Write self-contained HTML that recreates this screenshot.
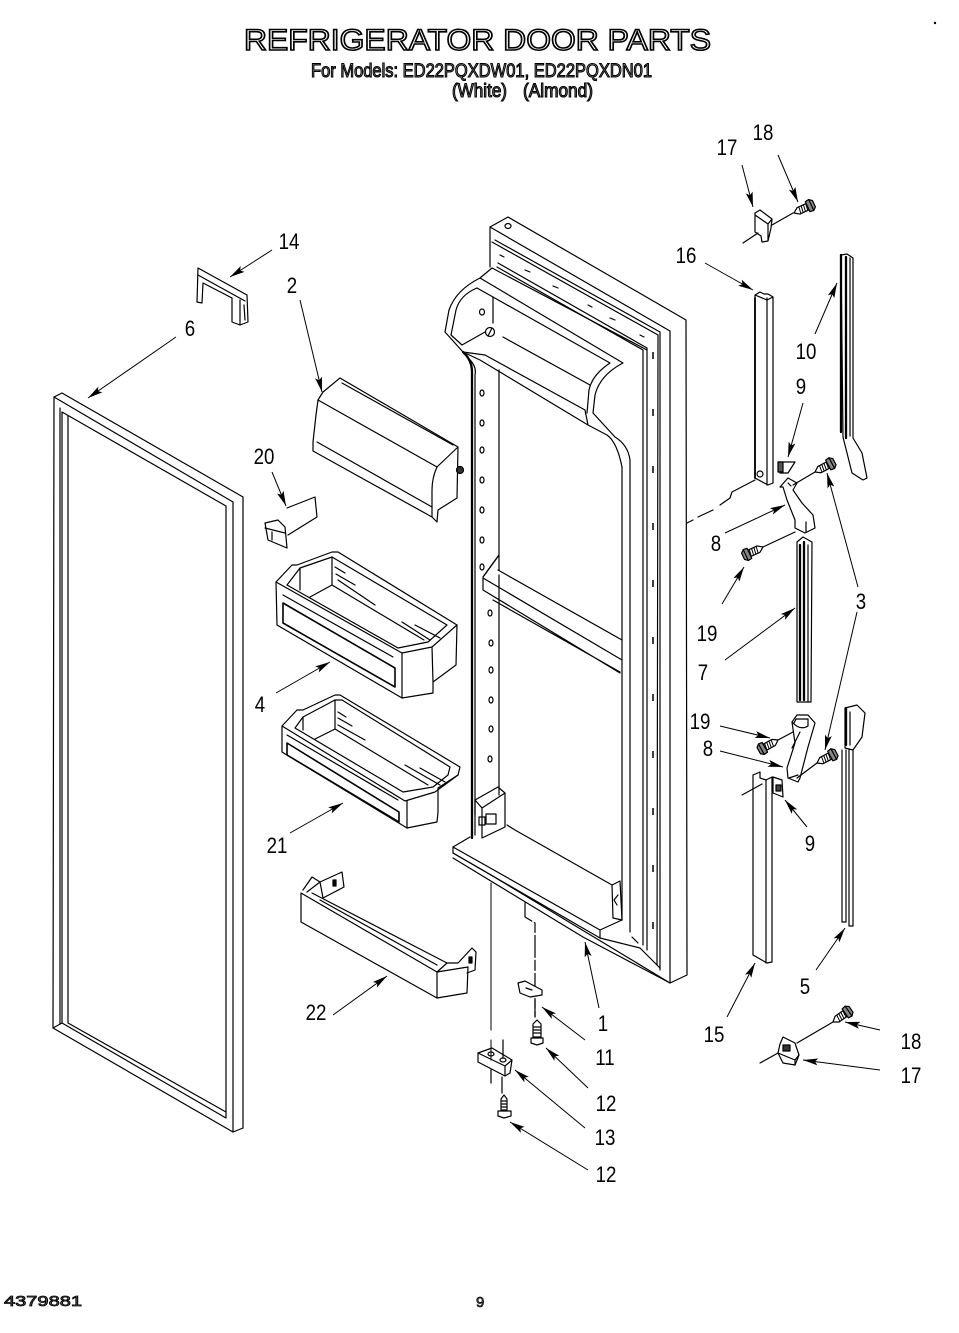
<!DOCTYPE html>
<html><head><meta charset="utf-8"><style>
html,body{margin:0;padding:0;background:#fff}
svg{display:block}
.l{fill:none;stroke:#000;stroke-width:1.2;stroke-linejoin:round;stroke-linecap:round}
.t{stroke-width:2.3}
.f{fill:#fff;stroke:#000;stroke-width:1.2;stroke-linejoin:round}
.k{fill:#222;stroke:#000;stroke-width:1}
.a{fill:none;stroke:#000;stroke-width:1;marker-end:url(#m)}
.n{font:22px "Liberation Sans",sans-serif;fill:#000;text-anchor:middle}
.o{font-family:"Liberation Sans",sans-serif}
</style></head><body>
<svg width="959" height="1333" viewBox="0 0 959 1333" xmlns="http://www.w3.org/2000/svg">
<defs>
<marker id="m" markerUnits="userSpaceOnUse" markerWidth="18" markerHeight="10" refX="16" refY="5" orient="auto"><path d="M16,5 L1,1.5 L4,5 L1,8.5 Z" fill="#000"/></marker>
<g id="sc" fill="#fff" stroke="#000" stroke-width="1.2" stroke-linejoin="round">
<path d="M0,0 L5,-3.5 L15,-3.5 L15,3.5 L5,3.5 Z"/>
<path d="M7,-3.5 L6,3.5 M9.5,-3.5 L8.5,3.5 M12,-3.5 L11,3.5 M14.5,-3.5 L13.5,3.5" stroke-width="1"/>
<path d="M15,-5.5 L19,-6 L22,-3.5 L22,3.5 L19,6 L15,5.5 Z" fill="#888"/>
<path d="M19,-6 L19,6"/>
</g>
</defs>
<rect width="959" height="1333" fill="#fff"/>

<!-- headings -->
<text class="o" x="244" y="50" font-size="30" textLength="467" lengthAdjust="spacingAndGlyphs" fill="#fff" stroke="#000" stroke-width="1.6">REFRIGERATOR DOOR PARTS</text>
<text class="o" x="311" y="77" font-size="19" textLength="341" lengthAdjust="spacingAndGlyphs" fill="#888" stroke="#000" stroke-width="1.1">For Models: ED22PQXDW01, ED22PQXDN01</text>
<text class="o" x="452" y="97" font-size="19" textLength="55" lengthAdjust="spacingAndGlyphs" fill="#888" stroke="#000" stroke-width="1.1">(White)</text>
<text class="o" x="523" y="97" font-size="19" textLength="70" lengthAdjust="spacingAndGlyphs" fill="#777" stroke="#000" stroke-width="1.1">(Almond)</text>
<text class="o" x="4" y="1306" font-size="15" textLength="78" lengthAdjust="spacingAndGlyphs" fill="#666" stroke="#000" stroke-width=".8">4379881</text>
<text class="o" x="476" y="1307" font-size="15" fill="#555" stroke="#000" stroke-width=".7">9</text>
<circle cx="935" cy="23" r="1.2" fill="#000"/>

<!-- door panel 6 -->
<g class="l">
<path d="M54,397 L62,393 L243,497 L243,1128 L233,1132 L53,1028 Z"/>
<path d="M54,397 L233,502 L233,1132"/>
<path d="M62,412 L226,506 L226,1118 L62,1023 Z"/>
<path d="M68,416 L68,1023 L226,1112"/>
<path d="M53,1028 L62,1023"/>
<path d="M60,408 L60,1024"/>
</g>

<!-- clip 14 -->
<path class="l" d="M197,302 L198,268 L247,295 L248,322 L240,325 L232,322 L232,298 L203,283 L202,303 Z M198,275 L245,301 M240,300 L240,325 M244,305 L245,320"/>

<!-- shelf 2 -->
<g class="l">
<path d="M313,442 L316,415 L318,400 L323,392 L340,378 L458,447 L457,498 L438,510 L437,522 L432,517 L313,451 Z"/>
<path d="M318,400 L437,467 L458,447"/>
<path d="M437,467 Q432,478 432,490 L432,517"/>
<path d="M317,442 L432,507"/>
<path d="M342,383 L453,445"/>
<circle cx="460" cy="470" r="3.5" fill="#333"/>
</g>

<!-- clip 20 -->
<g class="l">
<path d="M287,508 L315,497 L317,517 L288,535"/>
<path class="f" d="M265,523 L278,520 L285,527 L287,548 L268,540 Z"/>
<path d="M265,528 L285,533 M272,540 L272,532"/>
</g>

<!-- bin 4 -->
<g class="l">
<path d="M276,582 L292,565 L297,565 L332,552 L338,552 L457,625 L456,665 L433,682 L433,693 L402,698 L277,625 Z"/>
<path d="M276,582 L402,653 L432,647 L457,625"/>
<path d="M402,653 L402,698"/>
<path d="M432,647 L433,682"/>
<path d="M287,585 L300,568 L332,557 L447,625 L428,642 L398,648 Z"/>
<path d="M300,568 L300,590 M332,557 L332,585 L310,597 M332,585 L424,640"/>
<path d="M283,603 L395,668 L395,687 L283,623 Z" stroke-width="1.6"/>
<path d="M283,595 L393,657"/>
<path d="M335,567 L345,573 M336,574 L355,585 M338,580 L375,605 M402,622 L430,640 M415,625 L440,638"/>
</g>

<!-- bin 21 -->
<g class="l">
<path d="M282,726 L297,710 L303,710 L335,695 L340,695 L460,767 L458,775 L438,788 L438,812 L437,822 L407,828 L282,752 Z"/>
<path d="M282,726 L405,801 L435,792 L458,775"/>
<path d="M407,801 L407,828"/>
<path d="M295,728 L303,717 L335,700 L342,700 L450,767 L448,775 L433,787 L403,792 Z"/>
<path d="M303,717 L303,730 M335,700 L335,729 L315,739 M335,729 L428,785"/>
<path d="M287,743 L399,812 L399,822 L287,755 Z" stroke-width="1.6"/>
<path d="M287,735 L398,800"/>
<path d="M338,712 L346,717 M338,718 L352,726 M338,725 L365,740 M405,765 L440,785 M420,768 L445,782"/>
</g>

<!-- bar 22 -->
<g class="l">
<path d="M301,893 L301,922 L437,998 L467,993 L468,967 L437,972 Z"/>
<path d="M437,972 L437,998"/>
<path d="M303,890 L312,877 L320,882 L342,872 L344,887 L323,898 L320,882 M307,892 L320,882"/>
<path d="M312,893 L447,963 L437,972 M320,900 L437,965"/>
<path d="M447,963 L458,963 L472,948 L476,952 L475,970 L467,973"/>
<rect x="333" y="880" width="3" height="6" fill="#000"/>
<rect x="469" y="957" width="3" height="6" fill="#000"/>
</g>

<!-- refrigerator door -->
<g class="l">
<path d="M490,267 L490,227 L508,217 L686,320 L687,975 L670,983 L491,875"/>
<path d="M490,227 L670,331 L670,983"/>
<path d="M492,242 L658,335 L657,965"/>
<path d="M495,240 L660,332 L660,970"/>
<path d="M498,263 L647,348 L647,950"/>
<path d="M497,267 L643,350 L643,945"/>
<path d="M653,352 L653,945" stroke-dasharray="7 50" stroke-width="1.5" stroke-linecap="butt"/>
<path d="M500,255 L504,257 M525,270 L530,272 M553,286 L558,288 M588,305 L592,307 M610,318 L615,320 M640,335 L644,337"/>
<path d="M492,268 L480,278 Q456,290 449,310 L445,332 L463,352 L480,360 L588,425 L607,435 Q617,442 622,467 L622,920"/>
<path d="M492,268 L647,350 M480,278 L623,363 Q600,375 595,395 L593,413 L615,437 Q628,445 630,460 L630,932"/>
<path d="M477,288 Q460,295 456,310 L451,335 L462,345 L485,332"/>
<path d="M477,288 L610,363 Q592,375 589,390 L587,413"/>
<path d="M503,337 L590,385"/>
<path d="M463,352 L485,355 L585,410 L588,425"/>
<path d="M493,297 L493,323"/>
<circle cx="490" cy="332" r="4.5"/><path d="M488,336 L492,328"/>
<ellipse cx="482" cy="312" rx="2.5" ry="3" />
<ellipse cx="508" cy="226" rx="3" ry="2.5"/>
<path class="t" d="M463,352 Q472,360 472,372 L472,838"/>
<path d="M468,358 Q477,366 475,375 L475,815"/>
<path d="M499,370 L499,555 L483,577 M483,578 L483,590 L620,673 M483,578 L622,660 M498,570 L622,640 M493,600 L620,672"/>
<path d="M483,577 L499,555 L499,570"/>
<path d="M499,575 L499,795"/>
<path d="M475,800 L498,787 L505,793 L505,827 L482,838 L482,808 Z M482,808 L505,793 M475,800 L475,835"/>
<rect x="479" y="817" width="6" height="8"/><rect x="486" y="814" width="10" height="10"/>
<path d="M453,847 L470,837 M453,847 L453,853 L600,938 L600,930 L453,847 M600,930 L622,920 L613,918 L612,885 L515,830 L507,825 M600,938 L640,948 L660,968"/>
<path d="M612,885 L620,881 L622,920"/>
<path d="M453,858 L583,937 L670,983"/>
<path d="M618,895 L614,900 L617,905 M632,937 L638,943"/>
<path d="M491,875 L453,853"/>
<path d="M687,523 L693,520 M698,517 L713,510 M720,505 L730,498 L732,492 L755,480"/>
<path d="M491,883 L491,1000 M491,1000 L491,1030 M491,1040 L491,1060" stroke-width="1"/>
<path d="M525,903 L525,917 L535,923 L535,1017" stroke-dasharray="22 3 10 3"/>
</g>
<g class="l" id="holes">
<ellipse cx="482" cy="393" rx="2" ry="3"/><ellipse cx="482" cy="423" rx="2" ry="3"/><ellipse cx="482" cy="450" rx="2" ry="3"/><ellipse cx="482" cy="480" rx="2" ry="3"/><ellipse cx="482" cy="510" rx="2" ry="3"/><ellipse cx="482" cy="540" rx="2" ry="3"/><ellipse cx="482" cy="567" rx="2" ry="3"/>
<ellipse cx="490" cy="613" rx="2" ry="3"/><ellipse cx="491" cy="643" rx="2" ry="3"/><ellipse cx="491" cy="670" rx="2" ry="3"/><ellipse cx="491" cy="700" rx="2" ry="3"/><ellipse cx="491" cy="729" rx="2" ry="3"/><ellipse cx="490" cy="759" rx="2" ry="3"/>
</g>

<!-- bottom small parts -->
<g class="l">
<path d="M518,983 L525,981 L542,990 L542,995 L530,997 L520,993 Z" fill="#fff"/>
<path d="M526,988 L532,990"/>
<path d="M535,1000 L535,1017"/>
<path d="M533,1037 L533,1024 L537,1020 L541,1024 L541,1037 Z M531,1038 L543,1038 L543,1043 L537,1045 L531,1043 Z M534,1027 H540 M534,1030 H540 M534,1033 H540"/>
<path d="M478,1053 L492,1048 L512,1060 L510,1073 L505,1076 L478,1062 Z M478,1053 L505,1066 L512,1060 M505,1066 L505,1076"/>
<ellipse cx="491" cy="1054" rx="3" ry="2"/><ellipse cx="503" cy="1060" rx="3" ry="2"/>
<path d="M503,1040 L503,1057 M491,1070 L491,1083 M502,1077 L502,1093"/>
<path d="M501,1110 L501,1099 L504,1095 L507,1099 L507,1110 Z M498,1111 L511,1111 L511,1116 L504,1118 L498,1116 Z M502,1101 H506 M502,1104 H506 M502,1107 H506"/>
</g>

<!-- right parts upper -->
<g class="l">
<path d="M755,213 L760,210 L772,219 L771,228 L768,241 L762,242 L761,236 L755,232 Z M755,215 L768,224 L772,219 M768,224 L768,241"/>
<path d="M743,243 L758,233 M772,225 L793,213"/>
<use href="#sc" transform="translate(794,213) rotate(-25)"/>
<path d="M755,295 L760,292 L764,294 L768,294 L773,297 L773,483 L768,485 L755,478 Z M755,295 L767,300 L773,297 M767,298 L767,485"/>
<path d="M755,298 L755,478" stroke-width="1.8"/>
<ellipse cx="760" cy="474" rx="3" ry="3"/>
<path d="M841,255 L847,254 L853,258 L853,438 L862,453 L867,478 L863,480 L852,473 L843,437 Z"/>
<path class="t" d="M841,255 L841,432 M846,257 L846,438"/>
<path d="M850,258 L850,436"/>
<path d="M778,462 L780,473 L788,473 L795,462 L786,462 Z" fill="#fff"/>
<rect x="778" y="462" width="5" height="10" fill="#555"/>
<path class="f" d="M780,487 L788,478 L797,483 L793,490 L802,503 L813,515 L815,528 L805,533 L795,528 L795,520 L787,500 L783,487 Z"/>
<path d="M788,483 L791,486 M806,522 L806,532"/>
<path d="M793,485 L815,472"/>
<use href="#sc" transform="translate(815,472) rotate(-28)"/>
<path d="M795,532 L763,547"/>
<use href="#sc" transform="translate(763,547) rotate(155)"/>
<path d="M797,702 L797,542 L803,537 L812,542 L811,702 Z"/>
<path class="t" d="M800,545 L800,700 M804,542 L804,700"/>
<path d="M808,545 L808,702"/>
</g>

<!-- right parts lower -->
<g class="l">
<path class="f" d="M792,722 L797,715 L808,715 L815,723 L808,747 L800,778 L798,782 L788,778 L787,768 L795,743 Z"/>
<path d="M792,722 Q800,731 808,726 L808,719 L796,719 L794,723 M800,732 L792,748 M789,778 L798,775"/>
<path d="M793,732 L778,740"/>
<use href="#sc" transform="translate(778,740) rotate(151)"/>
<path d="M797,778 L817,763"/>
<use href="#sc" transform="translate(817,763) rotate(-28)"/>
<path d="M845,708 L857,705 L865,713 L862,737 L853,750 L845,748 Z M850,712 L850,745"/>
<path class="t" d="M846,708 L846,745"/>
<path d="M842,750 L842,922 L846,922 L846,750 M849,750 L849,926 L853,926 L853,750"/>
<path d="M753,775 L760,772 L760,778 L766,780 L772,777 L772,962 L767,963 L753,955 Z M766,780 L766,963 M753,775 L753,955"/>
<path d="M742,795 L762,784"/>
<path d="M773,777 L782,780 L783,797 L773,793 Z"/>
<rect x="776" y="785" width="5" height="6" fill="#444"/>
<path class="f" d="M780,1044 L783,1037 L795,1043 L799,1055 L795,1065 L783,1063 L778,1053 Z"/>
<path d="M778,1053 L795,1060 L799,1055 M795,1060 L795,1065"/>
<rect x="783" y="1045" width="7" height="6" fill="#333"/>
<path d="M760,1063 L778,1053 M797,1043 L833,1022"/>
<use href="#sc" transform="translate(833,1022) rotate(-35)"/>
</g>

<!-- leader arrows -->
<path class="a" d="M272,250 L230,277"/>
<path class="a" d="M300,300 L322,392"/>
<path class="a" d="M176,337 L88,398"/>
<path class="a" d="M272,472 L286,506"/>
<path class="a" d="M276,693 L330,662"/>
<path class="a" d="M290,833 L343,803"/>
<path class="a" d="M333,1015 L387,976"/>
<path class="a" d="M599,1008 L585,942"/>
<path class="a" d="M585,1040 L542,1007"/>
<path class="a" d="M588,1088 L546,1048"/>
<path class="a" d="M585,1128 L515,1070"/>
<path class="a" d="M588,1170 L510,1122"/>
<path class="a" d="M705,263 L753,290"/>
<path class="a" d="M742,165 L753,207"/>
<path class="a" d="M778,155 L798,202"/>
<path class="a" d="M815,334 L837,283"/>
<path class="a" d="M803,403 L788,457"/>
<path class="a" d="M858,587 L827,473"/>
<path class="a" d="M725,533 L785,505"/>
<path class="a" d="M722,604 L744,567"/>
<path class="a" d="M725,660 L795,608"/>
<path class="a" d="M720,726 L770,738"/>
<path class="a" d="M720,751 L783,767"/>
<path class="a" d="M857,612 L825,750"/>
<path class="a" d="M807,827 L785,800"/>
<path class="a" d="M816,970 L845,928"/>
<path class="a" d="M727,1017 L755,963"/>
<path class="a" d="M880,1030 L845,1022"/>
<path class="a" d="M880,1070 L803,1060"/>

<!-- labels -->
<g class="n">
<text transform="translate(289,249) scale(.85,1)">14</text>
<text transform="translate(292,293) scale(.85,1)">2</text>
<text transform="translate(190,336) scale(.85,1)">6</text>
<text transform="translate(264,464) scale(.85,1)">20</text>
<text transform="translate(260,712) scale(.85,1)">4</text>
<text transform="translate(277,853) scale(.85,1)">21</text>
<text transform="translate(316,1020) scale(.85,1)">22</text>
<text transform="translate(603,1031) scale(.85,1)">1</text>
<text transform="translate(605,1065) scale(.85,1)">11</text>
<text transform="translate(606,1111) scale(.85,1)">12</text>
<text transform="translate(605,1145) scale(.85,1)">13</text>
<text transform="translate(606,1182) scale(.85,1)">12</text>
<text transform="translate(686,263) scale(.85,1)">16</text>
<text transform="translate(727,155) scale(.85,1)">17</text>
<text transform="translate(763,140) scale(.85,1)">18</text>
<text transform="translate(806,359) scale(.85,1)">10</text>
<text transform="translate(801,394) scale(.85,1)">9</text>
<text transform="translate(861,609) scale(.85,1)">3</text>
<text transform="translate(716,551) scale(.85,1)">8</text>
<text transform="translate(707,641) scale(.85,1)">19</text>
<text transform="translate(703,680) scale(.85,1)">7</text>
<text transform="translate(700,729) scale(.85,1)">19</text>
<text transform="translate(708,756) scale(.85,1)">8</text>
<text transform="translate(810,851) scale(.85,1)">9</text>
<text transform="translate(805,994) scale(.85,1)">5</text>
<text transform="translate(714,1042) scale(.85,1)">15</text>
<text transform="translate(911,1049) scale(.85,1)">18</text>
<text transform="translate(911,1083) scale(.85,1)">17</text>
</g>
</svg>
</body></html>
